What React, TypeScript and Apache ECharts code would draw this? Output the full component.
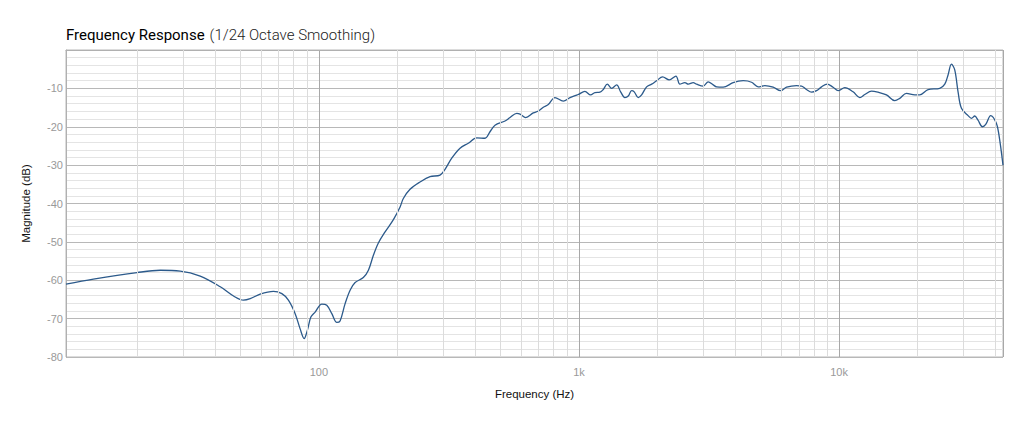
import React, { useEffect, useRef } from "react";
import * as echarts from "echarts";

const frequencies: number[] = [
  10.67, 13.6, 20.0, 24.6, 29.3, 35.0, 41.8, 47.0, 51.3, 54.5, 59.5, 66.9, 72.1, 76.4, 81.1, 84.7, 87.8, 90.4,
  93.2, 96.8, 102.7, 107.3, 112.2, 117.3, 120.7, 126.2, 131.9, 137.9, 148.3, 155.1, 162.1, 169.4, 179.8, 193.5,
  205.3, 211.3, 224.2, 245.0, 267.7, 292.4, 305.6, 324.3, 349.0, 375.5, 404.6, 435.4, 455.0, 475.6, 519.8, 543.3,
  576.6, 593.6, 624.3, 667.5, 698.0, 729.5, 762.5, 808.9, 870.5, 923.8, 993.8, 1054, 1109, 1152, 1204, 1240,
  1285, 1336, 1396, 1446, 1502, 1547, 1594, 1631, 1690, 1741, 1820, 1903, 1989, 2097, 2223, 2359, 2443, 2554,
  2630, 2749, 2833, 3003, 3139, 3281, 3381, 3584, 3915, 4278, 4608, 4885, 5184, 5578, 5956, 6281, 6862, 7173,
  7497, 7834, 8190, 8560, 8993, 9484, 9913, 10517, 11320, 12010, 12550, 13320, 14120, 15210, 16370, 17110,
  18150, 19540, 20420, 21980, 24370, 25480, 26230, 27030, 27830, 28660, 29530, 31310, 32260, 33220, 34200,
  35560, 36610, 38250, 40230, 41170, 42660,
];

const magnitudes: number[] = [
  -61.0, -59.7, -58.0, -57.4, -57.6, -58.9, -61.7, -64.1, -65.2, -64.8, -63.6, -62.9, -63.5, -65.2, -68.7, -72.6,
  -75.2, -73.0, -69.6, -68.3, -66.2, -66.5, -68.7, -71.0, -70.6, -66.1, -62.6, -60.6, -59.3, -57.4, -53.5, -50.3,
  -47.4, -44.2, -40.9, -38.7, -36.3, -34.4, -33.0, -32.6, -31.1, -28.2, -25.6, -24.3, -22.9, -23.0, -21.3, -19.6,
  -18.5, -17.6, -16.5, -16.7, -17.6, -16.4, -15.9, -14.9, -14.2, -12.4, -13.3, -12.4, -11.6, -10.8, -11.7, -11.1,
  -11.0, -10.3, -8.9, -10.0, -9.1, -10.9, -12.4, -12.0, -10.6, -10.9, -12.4, -11.7, -9.6, -8.9, -8.0, -7.0, -7.8,
  -6.8, -8.9, -8.5, -8.9, -8.5, -8.9, -9.4, -8.3, -9.1, -9.6, -9.7, -8.5, -8.0, -8.4, -9.6, -9.3, -9.7, -10.6,
  -9.7, -9.3, -9.4, -10.3, -11.0, -10.6, -9.6, -8.9, -9.7, -10.6, -9.8, -10.9, -12.4, -11.6, -10.7, -11.0, -11.7,
  -13.2, -12.6, -11.3, -11.7, -11.7, -10.3, -10.0, -8.9, -6.5, -3.7, -5.2, -10.9, -15.2, -17.1, -17.8, -17.2,
  -18.3, -20.0, -19.4, -17.1, -19.1, -22.2, -30.0,
];

const minorFrequencyLines: number[] = [
  20, 30, 40, 50, 60, 70, 80, 90, 200, 300, 400, 500, 600, 700, 800, 900, 2000, 3000, 4000, 5000, 6000, 7000,
  8000, 9000, 20000, 30000, 40000,
];

const xTickLabels: Record<number, string> = { 100: "100", 1000: "1k", 10000: "10k" };

const X_MIN = 10.67;
const X_MAX = 42660;

export default function App() {
  const ref = useRef<HTMLDivElement>(null);

  useEffect(() => {
    document.body.style.margin = "0";
    if (!ref.current) return;
    const chart = echarts.init(ref.current, undefined, { renderer: "svg" });
    const font = "'Liberation Sans', Arial, sans-serif";
    const titleFont = "Roboto, 'Liberation Sans', sans-serif";
    chart.setOption({
      animation: false,
      title: {
        left: 61,
        top: 21,
        text: "{a|Frequency Response} {b|(1/24 Octave Smoothing)}",
        textStyle: {
          rich: {
            a: { fontFamily: titleFont, fontWeight: 400, fontSize: 15, color: "#000" },
            b: { fontFamily: titleFont, fontWeight: 300, fontSize: 15, color: "#222" },
          },
        },
      },
      grid: {
        left: 66,
        right: 21,
        top: 50,
        bottom: 70,
        show: true,
        borderColor: "#b8b8b8",
        borderWidth: 1,
        containLabel: false,
      },
      xAxis: {
        type: "log",
        logBase: 10,
        min: X_MIN,
        max: X_MAX,
        name: "Frequency (Hz)",
        nameLocation: "middle",
        nameGap: 31,
        nameTextStyle: { fontFamily: font, fontSize: 11.5, color: "#111" },
        axisLine: { show: true, lineStyle: { color: "#b0b0b0" } },
        axisTick: { show: false },
        axisLabel: {
          fontFamily: font,
          fontSize: 11,
          color: "#999",
          margin: 9,
          showMinLabel: false,
          showMaxLabel: false,
          formatter: (v: number) => xTickLabels[Math.round(v)] ?? "",
        },
        splitLine: { show: true, lineStyle: { color: "#a8a8a8", width: 1 } },
      },
      yAxis: {
        type: "value",
        min: -80,
        max: 0,
        interval: 10,
        name: "Magnitude (dB)",
        nameLocation: "middle",
        nameGap: 34,
        nameTextStyle: { fontFamily: font, fontSize: 11.5, color: "#111" },
        axisLine: { show: true, lineStyle: { color: "#b0b0b0" } },
        axisTick: { show: false },
        axisLabel: {
          fontFamily: font,
          fontSize: 11,
          color: "#999",
          margin: 3,
          formatter: (v: number) => (v === 0 ? "" : String(v)),
        },
        splitLine: { show: true, lineStyle: { color: "#b8b8b8", width: 1 } },
        minorTick: { show: false, splitNumber: 5 },
        minorSplitLine: { show: true, lineStyle: { color: "#e4e4e4", width: 1 } },
      },
      series: [
        {
          type: "line",
          name: "minor-grid",
          data: [],
          silent: true,
          z: 1,
          markLine: {
            silent: true,
            symbol: ["none", "none"],
            label: { show: false },
            lineStyle: { color: "#dcdcdc", type: "solid", width: 1 },
            data: minorFrequencyLines.map((f) => ({ xAxis: f })),
          },
        },
        {
          type: "line",
          name: "Magnitude",
          z: 3,
          data: frequencies.map((f, i) => [f, magnitudes[i]]),
          showSymbol: false,
          symbol: "none",
          smooth: 0.35,
          lineStyle: { color: "#2c5a8b", width: 1.3 },
        },
      ],
    });
    return () => chart.dispose();
  }, []);

  return <div ref={ref} style={{ width: 1024, height: 427 }} />;
}
